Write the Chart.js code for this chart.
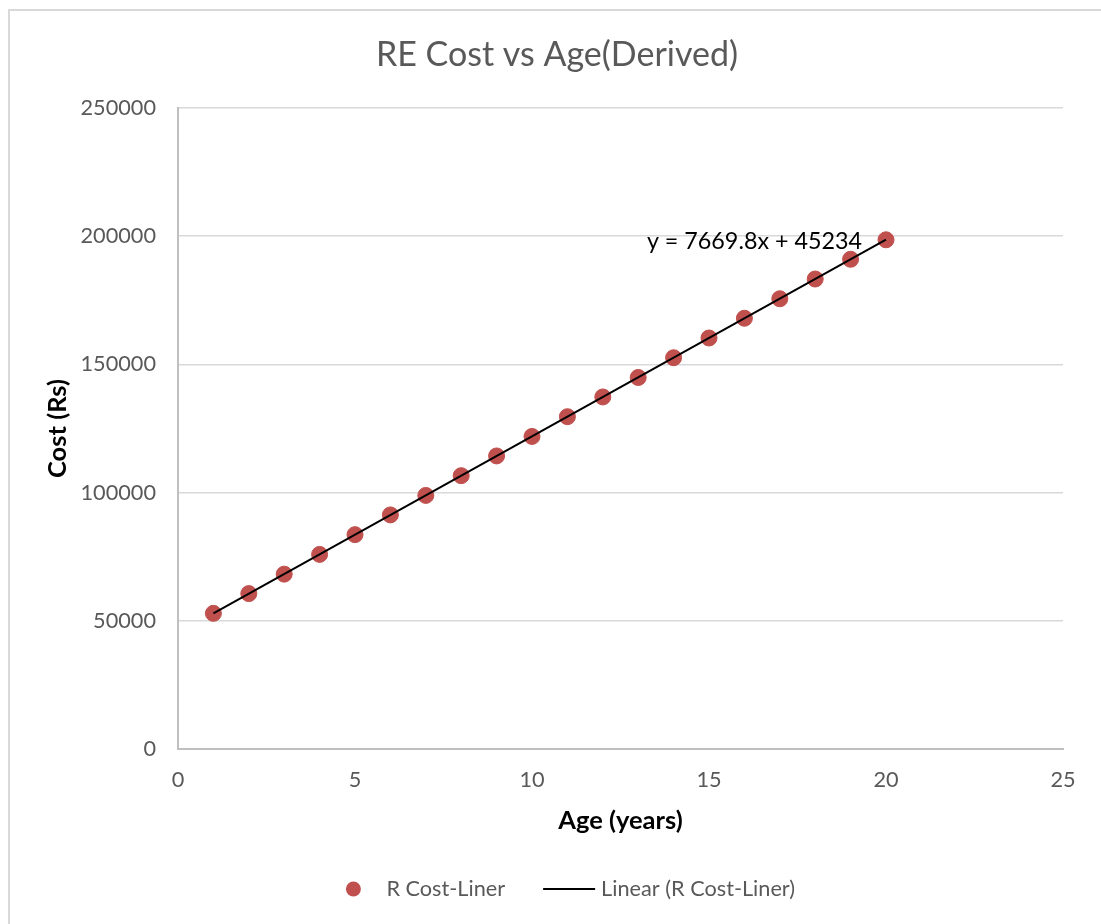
<!DOCTYPE html>
<html>
<head>
<meta charset="utf-8">
<title>RE Cost vs Age(Derived)</title>
<script src="https://cdn.jsdelivr.net/npm/chart.js@4"></script>
<style>
  html, body { margin: 0; padding: 0; background: #ffffff; }
  #wrap { width: 1101px; height: 924px; }
</style>
</head>
<body>
<div id="wrap"><canvas id="chart" width="1101" height="924"></canvas></div>
<script>
// Age of the asset in years
const ageYears = [1, 2, 3, 4, 5, 6, 7, 8, 9, 10, 11, 12, 13, 14, 15, 16, 17, 18, 19, 20];
// Replacement cost in rupees for each age
const costRs = [52900, 60600, 68200, 75900, 83600, 91300, 98900, 106600, 114300, 121900,
                129600, 137300, 144900, 152600, 160300, 168000, 175600, 183300, 191000, 198600];

// Fitted linear trend: y = slope * x + intercept
const trendSlope = 7669.8;
const trendIntercept = 45234;
const trendAges = [1, 20];
const trendCost = trendAges.map(x => trendSlope * x + trendIntercept);

// Axis ticks
const xTicks = [0, 5, 10, 15, 20, 25];
const yTicks = [0, 50000, 100000, 150000, 200000, 250000];

const seriesLabel = 'R Cost-Liner';
const trendLabel = 'Linear (R Cost-Liner)';
const chartTitle = 'RE Cost vs Age(Derived)';
const xTitle = 'Age (years)';
const yTitle = 'Cost (Rs)';

const FONT = 'Lato, "Open Sans", sans-serif';
const GREY_TEXT = '#595959';
const MARKER = '#c0504d';

// White background plus the light frame around the chart
const framePlugin = {
  id: 'frame',
  beforeDraw(chart) {
    const ctx = chart.ctx;
    ctx.save();
    ctx.fillStyle = '#ffffff';
    ctx.fillRect(0, 0, chart.width, chart.height);
    ctx.strokeStyle = '#d9d9d9';
    ctx.lineWidth = 2;
    ctx.strokeRect(9, 10, chart.width + 50, chart.height + 50);
    ctx.restore();
  }
};

// Trend equation written just left of the last trend point
const equationPlugin = {
  id: 'equation',
  afterDatasetsDraw(chart) {
    const xs = chart.scales.x, ys = chart.scales.y;
    const px = xs.getPixelForValue(trendAges[1]);
    const py = ys.getPixelForValue(trendCost[1]);
    const ctx = chart.ctx;
    ctx.save();
    ctx.font = '23.3px ' + FONT;
    ctx.fillStyle = '#000000';
    ctx.textAlign = 'right';
    ctx.textBaseline = 'middle';
    ctx.fillText('y = ' + trendSlope + 'x + ' + trendIntercept, px - 24, py + 2);
    ctx.restore();
  }
};

// Legend row at the bottom: marker for the series, a short line for the trend
const legendPlugin = {
  id: 'bottomLegend',
  afterDraw(chart) {
    const ctx = chart.ctx;
    const ds = chart.data.datasets;
    const scatter = ds[1], trend = ds[0];
    ctx.save();
    ctx.font = '21.7px ' + FONT;
    ctx.textBaseline = 'middle';
    ctx.textAlign = 'left';
    const w1 = ctx.measureText(scatter.label).width;
    const w2 = ctx.measureText(trend.label).width;
    const r = 7.5, gapMarker = 33, gapItems = 38, lineLen = 52, gapLine = 6;
    const total = r + gapMarker + w1 + gapItems + lineLen + gapLine + w2;
    const cy = 889;
    // x starts at the marker centre; the whole row is centred
    let x = 570.5 - total / 2 + r;
    // series marker
    ctx.fillStyle = MARKER;
    ctx.beginPath();
    ctx.arc(x, cy, r, 0, Math.PI * 2);
    ctx.fill();
    x += gapMarker;
    ctx.fillStyle = GREY_TEXT;
    ctx.fillText(scatter.label, x, cy);
    x += w1 + gapItems;
    // trend line sample
    ctx.strokeStyle = trend.borderColor;
    ctx.lineWidth = 2;
    ctx.beginPath();
    ctx.moveTo(x, cy);
    ctx.lineTo(x + lineLen, cy);
    ctx.stroke();
    x += lineLen + gapLine;
    ctx.fillText(trend.label, x, cy);
    ctx.restore();
  }
};

const scatterPoints = ageYears.map((a, i) => ({ x: a, y: costRs[i] }));
const trendPoints = trendAges.map((a, i) => ({ x: a, y: trendCost[i] }));

new Chart(document.getElementById('chart'), {
  type: 'scatter',
  data: {
    datasets: [
      {
        type: 'line',
        label: trendLabel,
        data: trendPoints,
        borderColor: '#000000',
        borderWidth: 2,
        pointRadius: 0,
        fill: false,
        order: 0
      },
      {
        type: 'scatter',
        label: seriesLabel,
        data: scatterPoints,
        backgroundColor: MARKER,
        borderColor: MARKER,
        pointRadius: 8,
        pointHoverRadius: 8,
        order: 1
      }
    ]
  },
  options: {
    responsive: false,
    animation: false,
    devicePixelRatio: 1,
    layout: { padding: { left: 13, right: 0, top: 0, bottom: 0 } },
    plugins: {
      legend: { display: false },
      tooltip: { enabled: false },
      title: {
        display: true,
        text: chartTitle,
        color: GREY_TEXT,
        font: { family: FONT, size: 34, weight: 'normal', lineHeight: 1.2 },
        padding: { top: 34.6, bottom: 32.6 }
      }
    },
    scales: {
      x: {
        type: 'linear',
        position: 'bottom',
        min: xTicks[0],
        max: xTicks[xTicks.length - 1],
        afterBuildTicks: s => { s.ticks = xTicks.map(v => ({ value: v })); },
        afterFit: s => { s.height = 175; },
        grid: { display: false, drawTicks: false },
        border: { display: true, color: '#bfbfbf', width: 2 },
        ticks: {
          color: GREY_TEXT,
          padding: 18,
          font: { family: FONT, size: 21.7 },
          maxRotation: 0
        },
        title: {
          display: true,
          text: xTitle,
          color: '#000000',
          font: { family: FONT, size: 25.5, weight: 'bold', lineHeight: 1.2 },
          padding: { top: 0, bottom: 87.7 }
        }
      },
      y: {
        type: 'linear',
        position: 'left',
        min: yTicks[0],
        max: yTicks[yTicks.length - 1],
        afterBuildTicks: s => { s.ticks = yTicks.map(v => ({ value: v })); },
        afterFit: s => { s.width = 165; },
        grid: { color: '#d9d9d9', lineWidth: 1.5, drawTicks: false },
        border: { display: true, color: '#bfbfbf', width: 2 },
        ticks: {
          color: GREY_TEXT,
          padding: 22,
          font: { family: FONT, size: 21.7 },
          callback: v => String(v)
        },
        title: {
          display: true,
          text: yTitle,
          color: '#000000',
          font: { family: FONT, size: 25.5, weight: 'bold', lineHeight: 1.2 },
          padding: { top: 29.7, bottom: 0 }
        }
      },
      spacer: {
        type: 'linear',
        position: 'right',
        display: true,
        afterFit: s => { s.width = 38; },
        grid: { display: false, drawTicks: false },
        border: { display: false },
        ticks: { display: false }
      }
    }
  },
  plugins: [framePlugin, equationPlugin, legendPlugin]
});
</script>
</body>
</html>
